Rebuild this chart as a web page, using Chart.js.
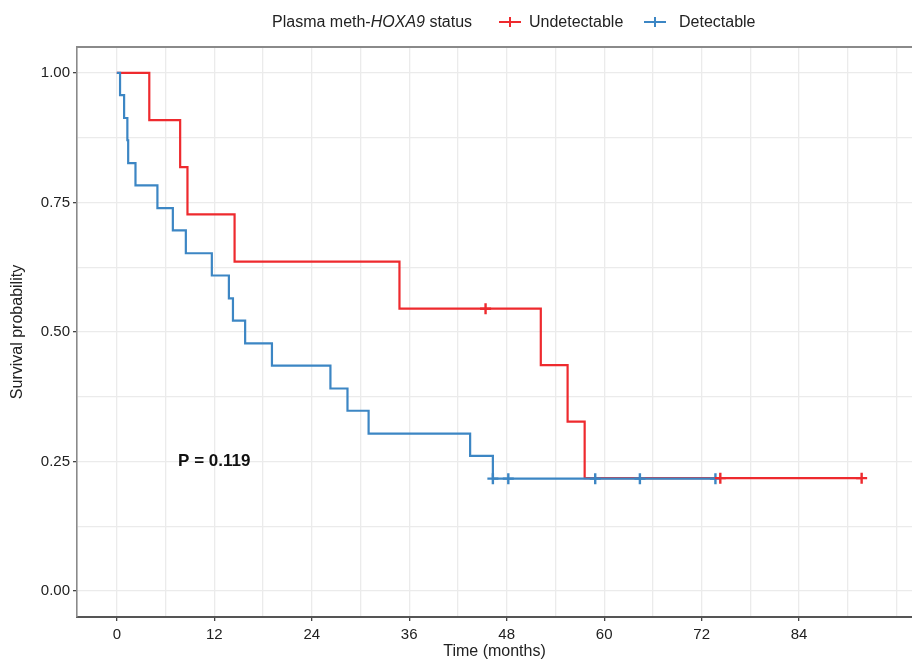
<!DOCTYPE html>
<html>
<head>
<meta charset="utf-8">
<script src="https://cdn.jsdelivr.net/npm/chart.js@4.4.1/dist/chart.umd.min.js"></script>
<style>
  html, body { margin: 0; padding: 0; background: #fff; overflow: hidden; }
  #wrap { position: relative; width: 912px; height: 662px; }
  .lg { position: absolute; top: 12px; font: 16px "Liberation Sans", Arial, sans-serif; color: #222; white-space: nowrap; line-height: 20px; }
  .sym { position: absolute; top: 12px; width: 22px; height: 20px; }
  .sym .h { position: absolute; left: 0; top: 9px; width: 22px; height: 2px; }
  .sym .v { position: absolute; left: 10px; top: 5px; width: 2px; height: 10px; }
</style>
</head>
<body>
<div id="wrap">
  <canvas id="myChart" width="912" height="662"></canvas>
  <div class="lg" style="left:272px">Plasma meth-<i>HOXA9</i> status</div>
  <div class="sym" style="left:499px"><div class="h" style="background:#ee2a2e"></div><div class="v" style="background:#ee2a2e"></div></div>
  <div class="lg" style="left:529px">Undetectable</div>
  <div class="sym" style="left:644px"><div class="h" style="background:#3c86c4"></div><div class="v" style="background:#3c86c4"></div></div>
  <div class="lg" style="left:679px">Detectable</div>
</div>
<script>
// Kaplan-Meier steps (months, survival)
var redTime = [0, 4.0, 7.8, 8.7, 14.5, 34.8, 52.2, 55.5, 57.6, 91.7]
var redSurv = [1.000, 0.909, 0.818, 0.727, 0.636, 0.545, 0.436, 0.327, 0.218, 0.218]
var redCensorTime = [45.4, 74.3, 91.7]
var redCensorSurv = [0.545, 0.218, 0.218]

var blueTime = [0, 0.4, 0.9, 1.3, 1.4, 2.3, 5.0, 6.9, 8.5, 11.7, 13.8, 14.3, 15.8, 19.1, 26.3, 28.4, 31.0, 43.5, 46.3, 73.7]
var blueSurv = [1.000, 0.957, 0.913, 0.870, 0.826, 0.783, 0.739, 0.696, 0.652, 0.609, 0.565, 0.522, 0.478, 0.435, 0.391, 0.348, 0.304, 0.261, 0.217, 0.217]
var blueCensorTime = [46.3, 48.2, 58.9, 64.4, 73.7]
var blueCensorSurv = [0.217, 0.217, 0.217, 0.217, 0.217]

var xTickLabels = [0, 12, 24, 36, 48, 60, 72, 84]
var xGridLines = [0, 6, 12, 18, 24, 30, 36, 42, 48, 54, 60, 66, 72, 78, 84, 90, 96]
var yTickLabels = [0, 0.25, 0.5, 0.75, 1]
var yGridLines = [0, 0.125, 0.25, 0.375, 0.5, 0.625, 0.75, 0.875, 1]

var pText = "P = 0.119"
var pX = 12, pY = 0.25

var RED = "#ee2a2e", BLUE = "#3c86c4"

function pts(xs, ys) {
    var out = []
    for (var i = 0; i < xs.length; i++) out.push({x: xs[i], y: ys[i]})
    return out
}

var extras = {
    id: "extras",
    afterDatasetsDraw: function(chart) {
        var ctx = chart.ctx, a = chart.chartArea
        ctx.save()
        // top panel border
        ctx.strokeStyle = "#8a8a8a"
        ctx.lineWidth = 2
        ctx.beginPath()
        ctx.moveTo(a.left - 1, a.top)
        ctx.lineTo(a.right, a.top)
        ctx.stroke()
        // p-value
        ctx.font = "bold 17px 'Liberation Sans', Arial, sans-serif"
        ctx.fillStyle = "#111"
        ctx.textAlign = "center"
        ctx.textBaseline = "middle"
        ctx.fillText(pText, chart.scales.x.getPixelForValue(pX), chart.scales.y.getPixelForValue(pY))
        ctx.restore()
    }
}

var tickFont = {family: "'Liberation Sans', Arial, sans-serif", size: 15}
var titleFont = {family: "'Liberation Sans', Arial, sans-serif", size: 16}

var chart = new Chart(document.getElementById("myChart").getContext("2d"), {
    type: "line",
    data: {
        datasets: [
            {label: "Undetectable censor", type: "scatter", data: pts(redCensorTime, redCensorSurv),
             pointStyle: "cross", pointRadius: 5.5, borderColor: RED, borderWidth: 2.4, order: 0},
            {label: "Detectable censor", type: "scatter", data: pts(blueCensorTime, blueCensorSurv),
             pointStyle: "cross", pointRadius: 5.5, borderColor: BLUE, borderWidth: 2.4, order: 1},
            {label: "Detectable", data: pts(blueTime, blueSurv), borderColor: BLUE, borderWidth: 2.2,
             stepped: true, pointRadius: 0, fill: false, order: 2},
            {label: "Undetectable", data: pts(redTime, redSurv), borderColor: RED, borderWidth: 2.2,
             stepped: true, pointRadius: 0, fill: false, order: 3}
        ]
    },
    options: {
        responsive: false,
        animation: false,
        layout: {autoPadding: false, padding: {top: 47, right: 0, left: 0, bottom: 0}},
        plugins: {legend: {display: false}, tooltip: {enabled: false}},
        scales: {
            x: {
                type: "linear", min: -4.9, max: 97.9,
                afterBuildTicks: function(s) { s.ticks = xGridLines.map(function(v) { return {value: v} }) },
                afterFit: function(s) { s.height = 45; s.paddingRight = 0 },
                ticks: {
                    autoSkip: false, maxRotation: 0, padding: 5, color: "#222", font: tickFont,
                    callback: function(v) { return xTickLabels.indexOf(v) >= 0 ? String(v) : "" }
                },
                grid: {
                    color: "#ebebeb", lineWidth: 1.3, tickLength: 4,
                    tickColor: function(c) { return c.tick && xTickLabels.indexOf(c.tick.value) >= 0 ? "#444" : "rgba(0,0,0,0)" }
                },
                border: {display: true, color: "#555", width: 2},
                title: {display: true, text: "Time (months)", color: "#222", font: titleFont, padding: {top: 0, bottom: 1}}
            },
            y: {
                type: "linear", min: -0.05, max: 1.05,
                afterBuildTicks: function(s) { s.ticks = yGridLines.map(function(v) { return {value: v} }) },
                afterFit: function(s) { s.width = 77 },
                ticks: {
                    autoSkip: false, padding: 3, color: "#222", font: tickFont,
                    callback: function(v) { return yTickLabels.indexOf(v) >= 0 ? v.toFixed(2) : "" }
                },
                grid: {
                    color: "#ebebeb", lineWidth: 1.3, tickLength: 4,
                    tickColor: function(c) { return c.tick && yTickLabels.indexOf(c.tick.value) >= 0 ? "#444" : "rgba(0,0,0,0)" }
                },
                border: {display: true, color: "#8a8a8a", width: 1.6},
                title: {display: true, text: "Survival probability", color: "#222", font: titleFont, padding: {top: 8, bottom: 0}}
            }
        }
    },
    plugins: [extras]
})
</script>
</body>
</html>
